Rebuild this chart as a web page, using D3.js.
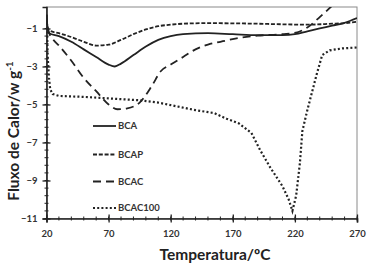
<!DOCTYPE html>
<html>
<head>
<meta charset="utf-8">
<script src="https://cdn.jsdelivr.net/npm/d3@7"></script>
<style>
  body { margin: 0; background: #fff; }
  svg { display: block; font-family: Lato, "Open Sans", sans-serif; }
</style>
</head>
<body>
<script>
// Dados (temperatura em ºC, fluxo em W/g)
const bcaT = [20, 20.6, 22, 30, 40, 50, 60, 70, 75, 80, 90, 100, 110, 120, 130, 150, 170, 190, 210, 220, 230, 240, 250, 260, 270];
const bcaV = [-0.25, -0.8, -1.25, -1.4, -1.7, -2.1, -2.5, -2.9, -3.0, -2.85, -2.4, -1.95, -1.6, -1.4, -1.3, -1.25, -1.3, -1.35, -1.35, -1.3, -1.15, -1.0, -0.85, -0.7, -0.45];

const bcapT = [20, 20.6, 22, 30, 40, 50, 60, 70, 80, 90, 100, 110, 120, 130, 150, 170, 190, 210, 230, 250, 260, 270];
const bcapV = [-0.3, -0.8, -1.1, -1.25, -1.45, -1.7, -1.9, -1.85, -1.6, -1.3, -1.05, -0.88, -0.8, -0.75, -0.72, -0.73, -0.75, -0.78, -0.8, -0.75, -0.72, -0.65];

const bcacT = [20, 20.6, 22, 25, 30, 40, 50, 60, 70, 77, 85, 95, 105, 112, 120, 130, 140, 150, 160, 175, 190, 210, 222, 230, 240, 250];
const bcacV = [-0.3, -0.8, -1.2, -1.55, -1.9, -2.7, -3.6, -4.3, -5.0, -5.25, -5.2, -4.9, -4.0, -3.25, -2.9, -2.5, -2.1, -1.85, -1.7, -1.5, -1.38, -1.3, -1.2, -0.95, -0.4, 0.2];

const bcac100T = [20, 20.5, 21, 22, 23, 25, 30, 50, 63, 80, 95, 110, 125, 140, 155, 165, 175, 185, 192, 200, 210, 215, 218, 221, 224, 226, 230, 234, 238, 242, 248, 258, 270];
const bcac100V = [-0.5, -1.3, -2.5, -3.6, -4.2, -4.45, -4.55, -4.6, -4.65, -4.72, -4.78, -4.9, -5.1, -5.3, -5.45, -5.75, -6.0, -6.5, -7.4, -8.3, -9.3, -10.0, -10.6, -9.8, -8.1, -6.4, -5.3, -4.3, -3.3, -2.4, -2.15, -2.05, -2.0];

const seriesNames = ["BCA", "BCAP", "BCAC", "BCAC100"];
const xTicks = [20, 70, 120, 170, 220, 270];
const yTicks = [-1, -3, -5, -7, -9, -11];

const width = 369, height = 268;
const svg = d3.select("body").append("svg")
  .attr("width", width)
  .attr("height", height);

const x = d3.scaleLinear().domain([20, 270]).range([46.5, 357]);
const y = d3.scaleLinear().domain([-11, 0.13]).range([218.5, 7]);

// moldura cinza (topo e direita)
svg.append("rect")
  .attr("x", x(20)).attr("y", y(0.13))
  .attr("width", x(270) - x(20)).attr("height", y(-11) - y(0.13))
  .attr("fill", "none").attr("stroke", "#8a8a8a").attr("stroke-width", 1);

svg.append("clipPath").attr("id", "clip")
  .append("rect")
  .attr("x", x(20)).attr("y", y(0.13))
  .attr("width", x(270) - x(20)).attr("height", y(-11) - y(0.13));

// ticks menores
const xMinor = d3.range(20, 271, 10);
const yMinor = d3.range(0, 26).map(i => -11 + i * 0.4);

svg.append("g").selectAll("line").data(xMinor).enter().append("line")
  .attr("x1", d => x(d)).attr("x2", d => x(d))
  .attr("y1", y(-11) - 2).attr("y2", y(-11) + 2)
  .attr("stroke", "#222").attr("stroke-width", 1);

svg.append("g").selectAll("line").data(yMinor).enter().append("line")
  .attr("y1", d => y(d)).attr("y2", d => y(d))
  .attr("x1", x(20) - 2).attr("x2", x(20) + 2)
  .attr("stroke", "#222").attr("stroke-width", 1);

// eixo X
const xAxis = svg.append("g")
  .attr("transform", `translate(0,${y(-11)})`)
  .call(d3.axisBottom(x).tickValues(xTicks).tickSize(4).tickPadding(8));
xAxis.select(".domain").attr("stroke", "#222").attr("stroke-width", 1.6);
xAxis.selectAll(".tick line").attr("y1", -4).attr("stroke", "#222").attr("stroke-width", 1.3);
xAxis.selectAll("text").attr("font-size", 9.5).attr("font-weight", "bold").attr("fill", "#333")
  .attr("font-family", "Lato, sans-serif");

// eixo Y
const yAxis = svg.append("g")
  .attr("transform", `translate(${x(20)},0)`)
  .call(d3.axisLeft(y).tickValues(yTicks).tickSize(4).tickPadding(5));
yAxis.select(".domain").attr("stroke", "#222").attr("stroke-width", 1.6);
yAxis.selectAll(".tick line").attr("x1", 4).attr("x2", -4).attr("stroke", "#222").attr("stroke-width", 1.3);
yAxis.selectAll("text").attr("font-size", 9.5).attr("font-weight", "bold").attr("fill", "#333")
  .attr("font-family", "Lato, sans-serif");

// linhas
const series = [
  { name: "BCA", t: bcaT, v: bcaV, dash: null, curve: d3.curveMonotoneX },
  { name: "BCAP", t: bcapT, v: bcapV, dash: "4,1.8", curve: d3.curveMonotoneX },
  { name: "BCAC", t: bcacT, v: bcacV, dash: "8,5", curve: d3.curveMonotoneX },
  { name: "BCAC100", t: bcac100T, v: bcac100V, dash: "2,2.2", curve: d3.curveLinear }
];

const plot = svg.append("g").attr("clip-path", "url(#clip)");
series.forEach(s => {
  const pts = s.t.map((t, i) => [t, s.v[i]]);
  const line = d3.line().x(d => x(d[0])).y(d => y(d[1])).curve(s.curve);
  plot.append("path")
    .attr("d", line(pts))
    .attr("fill", "none")
    .attr("stroke", "#222")
    .attr("stroke-width", s.name === "BCAC100" ? 2.2 : 1.8)
    .attr("stroke-dasharray", s.dash);
});

// legenda
const legendY = [126, 154.5, 181.5, 208];
const legend = svg.append("g");
series.forEach((s, i) => {
  legend.append("line")
    .attr("x1", 93).attr("x2", 116)
    .attr("y1", legendY[i]).attr("y2", legendY[i])
    .attr("stroke", "#222")
    .attr("stroke-width", s.name === "BCAC100" ? 2.2 : 1.8)
    .attr("stroke-dasharray", s.dash);
  legend.append("text")
    .attr("x", 118).attr("y", legendY[i] + 3.3)
    .attr("font-size", 9.5).attr("font-weight", "bold").attr("fill", "#333")
    .text(seriesNames[i]);
});

// títulos dos eixos
svg.append("text")
  .attr("x", 215).attr("y", 260)
  .attr("text-anchor", "middle")
  .attr("font-size", 15.5).attr("font-weight", "bold").attr("fill", "#222")
  .text("Temperatura/ºC");

const yt = svg.append("text")
  .attr("transform", "translate(19,131) rotate(-90)")
  .attr("text-anchor", "middle")
  .attr("font-size", 15.5).attr("font-weight", "bold").attr("fill", "#222");
yt.append("tspan").text("Fluxo de Calor/w g");
yt.append("tspan").attr("dy", -6).attr("font-size", 10).text("-1");
</script>
</body>
</html>
